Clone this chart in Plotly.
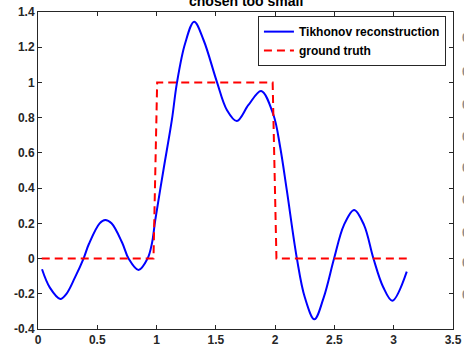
import plotly.graph_objects as go

# Tikhonov reconstruction (regularization parameter chosen too small)
x_rec = [0.034, 0.10, 0.188, 0.24, 0.31, 0.384, 0.43, 0.52, 0.567, 0.62,
         0.71, 0.764, 0.848, 0.924, 0.961, 0.989, 1.058, 1.129, 1.171, 1.24,
         1.317, 1.396, 1.508, 1.593, 1.677, 1.775, 1.882, 1.986, 2.042, 2.098,
         2.183, 2.25, 2.331, 2.41, 2.497, 2.58, 2.666, 2.75, 2.829, 2.91,
         2.988, 3.110]
y_rec = [-0.061, -0.165, -0.229, -0.2, -0.11, 0.0, 0.084, 0.2, 0.219, 0.2,
         0.09, 0.0, -0.065, 0.0, 0.087, 0.219, 0.503, 0.787, 0.995, 1.22,
         1.345, 1.241, 1.005, 0.844, 0.781, 0.872, 0.952, 0.815, 0.635, 0.39,
         0.002, -0.22, -0.345, -0.22, 0.0, 0.19, 0.276, 0.19, 0.0, -0.16,
         -0.239, -0.074]

# Ground truth: box function on [1, 2)
x_true = [0.0314, 0.974, 1.005, 1.979, 2.011, 3.110]
y_true = [0, 0, 1, 1, 0, 0]

x_ticks = [0, 0.5, 1, 1.5, 2, 2.5, 3, 3.5]
x_ticktext = ["0", "0.5", "1", "1.5", "2", "2.5", "3", "3.5"]
y_ticks = [-0.4, -0.2, 0, 0.2, 0.4, 0.6, 0.8, 1, 1.2, 1.4]
y_ticktext = ["-0.4", "-0.2", "0", "0.2", "0.4", "0.6", "0.8", "1", "1.2", "1.4"]

FONT = "Liberation Sans"
AX = "#262626"

fig = go.Figure()
fig.add_trace(go.Scatter(
    x=x_rec, y=y_rec, mode="lines", name="<b>Tikhonov reconstruction</b>",
    line=dict(color="#0000FF", width=2, shape="spline", smoothing=1.0),
))
fig.add_trace(go.Scatter(
    x=x_true, y=y_true, mode="lines", name="<b>ground truth</b>",
    line=dict(color="#FF0000", width=2, dash="8px,5px"),
))

axis_common = dict(
    showline=True, linecolor=AX, linewidth=1, mirror="ticks",
    ticks="inside", ticklen=4, tickcolor=AX, tickwidth=1,
    showgrid=False, zeroline=False, automargin=False,
    tickfont=dict(family=FONT, size=12, color=AX, weight="bold"),
)

fig.update_layout(
    template="none",
    width=464, height=350,
    margin=dict(l=38, r=11, t=12, b=21, autoexpand=False),
    paper_bgcolor="white", plot_bgcolor="white",
    font=dict(family=FONT, color=AX),
    showlegend=True,
    legend=dict(
        x=0.983, y=0.987, xanchor="right", yanchor="top",
        bgcolor="white", bordercolor=AX, borderwidth=1,
        font=dict(family=FONT, size=12, color="black"),
        tracegroupgap=0, itemwidth=30,
    ),
    xaxis=dict(range=[0, 3.5], tickvals=x_ticks, ticktext=x_ticktext, **axis_common),
    yaxis=dict(range=[-0.4, 1.4], tickvals=y_ticks, ticktext=y_ticktext, **axis_common),
)

# Title (partially above the figure edge)
fig.add_annotation(
    text="<b>chosen too small</b>", xref="paper", yref="paper",
    x=0.5, y=(329 - 1.5) / 317, xanchor="center", yanchor="middle", showarrow=False,
    font=dict(family=FONT, size=14, color="black"),
)

# Edge of the neighbouring panel's tick labels
for yp in [38, 72, 105, 137, 168, 200, 233, 263, 295]:
    fig.add_annotation(
        text="<b>0</b>", xref="paper", yref="paper",
        x=(461 - 38) / 415, y=(329 - yp) / 317, xanchor="left", yanchor="middle",
        showarrow=False, borderpad=0, font=dict(family=FONT, size=12, color="#8a8a8a"),
    )

fig.write_html("out.html")
